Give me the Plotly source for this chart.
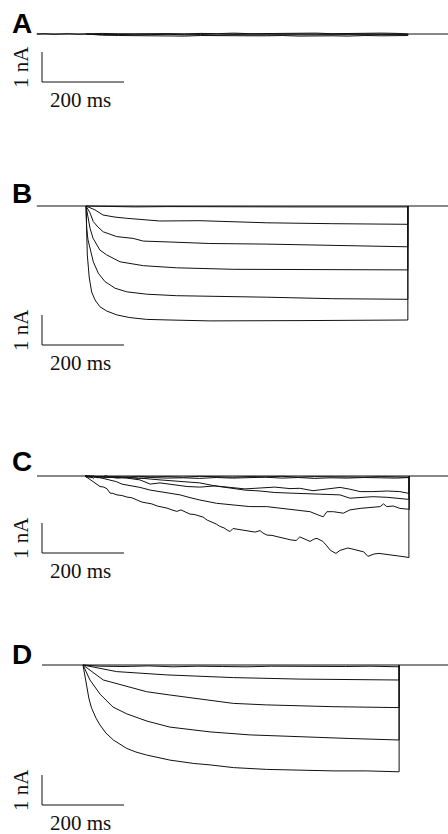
import plotly.graph_objects as go

# ---------------- data: time (ms from pulse onset), current (nA) ----------------
# Panel A: all sweeps stay near the baseline
A_T = [0, 40, 80, 120, 160, 200, 240, 280, 320, 360, 400, 440, 480, 520, 560, 600, 640, 680, 720, 760, 785]
A_I1 = [0, -0.02, -0.01, -0.03, -0.02, -0.01, -0.03, -0.02, -0.04, -0.02, -0.03, -0.03, -0.02, -0.04, -0.03, -0.02, -0.03, -0.04, -0.02, -0.03, -0.02]
A_I2 = [0, 0.02, 0.0, 0.01, 0.02, 0.01, 0.0, 0.02, 0.01, 0.03, 0.01, 0.02, 0.01, 0.02, 0.03, 0.01, 0.02, 0.01, 0.03, 0.02, 0.01]
A_I3 = [0, -0.04, -0.05, -0.06, -0.05, -0.06, -0.07, -0.05, -0.06, -0.07, -0.06, -0.06, -0.05, -0.07, -0.06, -0.06, -0.07, -0.05, -0.06, -0.06, -0.05]
A_PRE_T = [-120, -100, -80, -60, -40, -20, 0]
A_PRE_I = [0, 0.01, -0.01, 0.0, 0.01, -0.01, 0]

# Panel B
B_T1 = [0, 50, 120, 200, 300, 400, 500, 600, 700, 785]
B_I1 = [0, -0.02, -0.03, -0.02, -0.03, -0.02, -0.03, -0.03, -0.02, -0.03]
B_T2 = [0, 22, 41.5, 70.7, 99.3, 180, 278, 441, 602, 785]
B_I2 = [0, -0.13, -0.30, -0.37, -0.41, -0.50, -0.49, -0.56, -0.59, -0.61]
B_T3 = [0, 9.8, 17.8, 29, 42, 58.5, 75, 115, 140, 205, 302, 441, 602, 785]
B_I3 = [0, -0.23, -0.52, -0.70, -0.86, -0.95, -1.02, -1.08, -1.17, -1.20, -1.25, -1.27, -1.32, -1.36]
B_T4 = [0, 4.9, 9.8, 17, 26, 34, 50.5, 83, 140, 221, 359, 602, 785]
B_I4 = [0, -0.40, -0.74, -1.07, -1.30, -1.47, -1.63, -1.86, -1.99, -2.06, -2.11, -2.13, -2.13]
B_T5 = [0, 1.7, 4.9, 9.8, 17.8, 30, 46.3, 70.7, 99.3, 148, 221, 441, 602, 785]
B_I5 = [0, -0.74, -1.13, -1.41, -1.86, -2.24, -2.52, -2.74, -2.86, -2.94, -2.99, -3.04, -3.09, -3.11]
B_T6 = [0, 1.2, 3.2, 8, 13.9, 22, 34, 50.5, 75, 107, 148, 205, 302, 522, 785]
B_I6 = [0, -0.73, -1.63, -2.40, -2.87, -3.13, -3.36, -3.50, -3.63, -3.72, -3.78, -3.80, -3.83, -3.82, -3.80]

# Panel C (noisy)
C_T0 = [0, 5, 10, 15, 20, 25, 30, 40, 50, 60, 80, 100, 130, 160, 200, 240, 280, 320, 360, 400, 440, 480, 520, 560, 600, 640, 680, 720, 760, 790]
C_I0 = [0, -0.05, 0.02, -0.07, 0.01, -0.04, -0.02, -0.05, 0.01, -0.03, -0.02, -0.04, -0.01, -0.03, -0.02, -0.04, -0.01, -0.03, -0.04, -0.02, -0.03, -0.01, -0.04, -0.02, -0.03, -0.02, -0.04, -0.02, -0.03, -0.04]
C_I1 = [0, 0.02, -0.06, 0.01, -0.08, -0.02, -0.06, -0.01, -0.06, -0.04, -0.07, -0.03, -0.08, -0.05, -0.07, -0.06, -0.08, -0.05, -0.07, -0.06, -0.04, -0.07, -0.05, -0.08, -0.06, -0.07, -0.05, -0.06, -0.07, -0.05]
C_T2 = [0, 61, 102, 134, 159, 183, 215, 249, 280, 317, 354, 390, 427, 463, 500, 524, 556, 590, 622, 646, 671, 702, 737, 768, 790]
C_I2 = [0, -0.03, -0.07, -0.13, -0.27, -0.23, -0.30, -0.35, -0.37, -0.33, -0.38, -0.43, -0.40, -0.37, -0.42, -0.41, -0.49, -0.44, -0.38, -0.44, -0.52, -0.52, -0.50, -0.52, -0.58]
C_T3 = [0, 85, 134, 183, 232, 280, 317, 354, 390, 427, 463, 500, 524, 556, 590, 622, 646, 671, 702, 737, 768, 790]
C_I3 = [0, -0.03, -0.07, -0.13, -0.17, -0.23, -0.33, -0.40, -0.47, -0.50, -0.55, -0.57, -0.58, -0.61, -0.63, -0.63, -0.74, -0.71, -0.69, -0.71, -0.74, -0.78]
C_T4 = [0, 24, 44, 61, 77, 90, 102, 117, 134, 159, 183, 207, 232, 256, 280, 321, 362, 402, 443, 484, 524, 549, 569, 581, 590, 606, 630, 646, 671, 695, 720, 728, 736, 752, 768, 791]
C_I4 = [-0.02, -0.03, -0.08, -0.13, -0.19, -0.27, -0.30, -0.33, -0.38, -0.47, -0.53, -0.58, -0.63, -0.72, -0.80, -0.91, -0.97, -1.02, -1.02, -1.08, -1.13, -1.19, -1.30, -1.36, -1.19, -1.19, -1.24, -1.13, -1.08, -1.06, -1.02, -0.93, -1.02, -1.00, -1.08, -1.11]
C_T5 = [0, 9.8, 19.5, 29, 36.6, 46, 54, 61, 68, 78, 90, 102, 115, 127, 139, 151, 163, 176, 188, 200, 212, 224, 234, 246, 256, 266, 276, 288, 298, 310, 320, 329, 339, 349, 354, 361, 371, 378, 390, 402, 415, 427, 434, 444, 456, 468, 480, 493, 502, 515, 524, 537, 549, 559, 566, 573, 580, 590, 598, 605, 612, 622, 632, 641, 651, 661, 671, 680, 690, 698, 705, 717, 729, 741, 754, 763, 776, 783, 790]
C_I5 = [0, -0.10, -0.20, -0.27, -0.35, -0.37, -0.43, -0.57, -0.58, -0.63, -0.65, -0.70, -0.73, -0.80, -0.87, -0.90, -0.93, -1.00, -1.03, -1.07, -1.13, -1.18, -1.13, -1.20, -1.27, -1.28, -1.33, -1.37, -1.47, -1.53, -1.60, -1.68, -1.73, -1.82, -1.85, -1.75, -1.77, -1.80, -1.83, -1.85, -1.87, -1.82, -1.90, -1.97, -1.98, -2.02, -2.07, -2.10, -2.13, -2.15, -2.03, -2.10, -2.18, -2.10, -2.08, -2.13, -2.18, -2.33, -2.47, -2.53, -2.58, -2.48, -2.43, -2.40, -2.43, -2.47, -2.50, -2.53, -2.68, -2.63, -2.60, -2.58, -2.60, -2.63, -2.63, -2.67, -2.68, -2.70, -2.72]

# Panel D
D_T1 = [0, 40, 100, 160, 220, 280, 340, 400, 460, 520, 580, 640, 700, 771]
D_I1 = [0, -0.04, -0.05, -0.03, -0.06, -0.04, -0.05, -0.06, -0.04, -0.05, -0.06, -0.05, -0.04, -0.06]
D_T2 = [0, 82, 204, 367, 529, 771]
D_I2 = [0, -0.22, -0.33, -0.42, -0.47, -0.50]
D_T3 = [0, 33, 49.5, 66, 106.6, 155, 212, 310, 367, 448, 529, 610, 771]
D_I3 = [0, -0.33, -0.50, -0.56, -0.72, -0.89, -1.00, -1.17, -1.28, -1.33, -1.37, -1.39, -1.42]
D_T4 = [0, 17, 41.5, 73, 107, 156, 212, 310, 407, 529, 651, 771]
D_I4 = [0, -0.50, -0.97, -1.40, -1.63, -1.87, -2.07, -2.23, -2.33, -2.40, -2.45, -2.50]
D_T5 = [0, 4.9, 9, 14.6, 21, 31.7, 41.5, 56, 74, 90, 106.6, 129, 155, 212, 269, 310, 367, 448, 529, 610, 692, 771]
D_I5 = [0, -0.43, -0.78, -1.13, -1.44, -1.77, -2.00, -2.27, -2.50, -2.65, -2.78, -2.90, -3.00, -3.17, -3.28, -3.33, -3.42, -3.48, -3.51, -3.53, -3.53, -3.56]

PANEL_LABELS = ["A", "B", "C", "D"]
SCALE_MS = 200
SCALE_NA = 1

# ---------------- layout constants (pixels) ----------------
W, H = 448, 834
PX_PER_MS = 0.41
PX_PER_NA = 30.0

panels = [
    dict(label="A", x0=86, base=34, top=0, bot=140, bar=82, lab=23, pre=-120,
         traces=[(A_PRE_T, A_PRE_I, False), (A_T, A_I1, True), (A_T, A_I2, True), (A_T, A_I3, True)]),
    dict(label="B", x0=86, base=206, top=140, bot=400, bar=345, lab=193, pre=-120,
         traces=[(B_T1, B_I1, True), (B_T2, B_I2, True), (B_T3, B_I3, True),
                 (B_T4, B_I4, True), (B_T5, B_I5, True), (B_T6, B_I6, True)]),
    dict(label="C", x0=85, base=476, top=400, bot=620, bar=553, lab=461, pre=-117,
         traces=[(C_T0, C_I0, True), (C_T0, C_I1, True), (C_T2, C_I2, True), (C_T3, C_I3, True),
                 (C_T4, C_I4, True), (C_T5, C_I5, True)]),
    dict(label="D", x0=83, base=665, top=620, bot=834, bar=805, lab=654, pre=-100,
         traces=[(D_T1, D_I1, True), (D_T2, D_I2, True), (D_T3, D_I3, True),
                 (D_T4, D_I4, True), (D_T5, D_I5, True)]),
]

fig = go.Figure()
LINE = dict(color="#111111", width=1)
shapes, annotations = [], []
layout_axes = {}

for k, p in enumerate(panels, start=1):
    sfx = "" if k == 1 else str(k)
    xa, ya = "x" + sfx, "y" + sfx
    xr = [-p["x0"] / PX_PER_MS, (W - p["x0"]) / PX_PER_MS]
    yr = [-(p["bot"] - p["base"]) / PX_PER_NA, (p["base"] - p["top"]) / PX_PER_NA]
    dom = [1 - p["bot"] / H, 1 - p["top"] / H]
    layout_axes["xaxis" + sfx] = dict(domain=[0, 1], range=xr, visible=False, fixedrange=True, anchor=ya)
    layout_axes["yaxis" + sfx] = dict(domain=dom, range=yr, visible=False, fixedrange=True, anchor=xa)

    # baseline (holding current) across the whole sweep
    fig.add_trace(go.Scatter(x=[p["pre"], xr[1] + 20], y=[0, 0], mode="lines", line=LINE,
                             xaxis=xa, yaxis=ya, showlegend=False, hoverinfo="skip"))
    for t, i, close in p["traces"]:
        xs = list(t) + ([t[-1]] if close else [])
        ys = list(i) + ([0] if close else [])
        fig.add_trace(go.Scatter(x=xs, y=ys, mode="lines", line=LINE,
                                 xaxis=xa, yaxis=ya, showlegend=False, hoverinfo="skip"))

    # scale bars (200 ms, 1 nA)
    bx = (42 - p["x0"]) / PX_PER_MS
    by = -(p["bar"] - p["base"]) / PX_PER_NA
    shapes.append(dict(type="line", xref=xa, yref=ya, x0=bx, x1=bx, y0=by, y1=by + SCALE_NA,
                       line=dict(color="#111111", width=1)))
    shapes.append(dict(type="line", xref=xa, yref=ya, x0=bx, x1=bx + SCALE_MS, y0=by, y1=by,
                       line=dict(color="#111111", width=1)))
    annotations.append(dict(text=f"{SCALE_NA} nA", x=21 / W, y=1 - (p["bar"] - 15) / H, xref="paper", yref="paper",
                            textangle=-90, showarrow=False, xanchor="center", yanchor="middle",
                            font=dict(family="Liberation Serif", size=21, color="#111111")))
    annotations.append(dict(text=f"{SCALE_MS} ms", x=80 / W, y=1 - (p["bar"] + 18) / H, xref="paper", yref="paper",
                            showarrow=False, xanchor="center", yanchor="middle",
                            font=dict(family="Liberation Serif", size=21, color="#111111")))
    annotations.append(dict(text=f"<b>{p['label']}</b>", x=22 / W, y=1 - p["lab"] / H, xref="paper", yref="paper",
                            showarrow=False, xanchor="center", yanchor="middle",
                            font=dict(family="Liberation Sans", size=28, color="#000000")))

fig.update_layout(width=W, height=H, margin=dict(l=0, r=0, t=0, b=0),
                  paper_bgcolor="white", plot_bgcolor="white",
                  shapes=shapes, annotations=annotations, **layout_axes)

fig.write_html("out.html", config={"displayModeBar": False, "staticPlot": True})
